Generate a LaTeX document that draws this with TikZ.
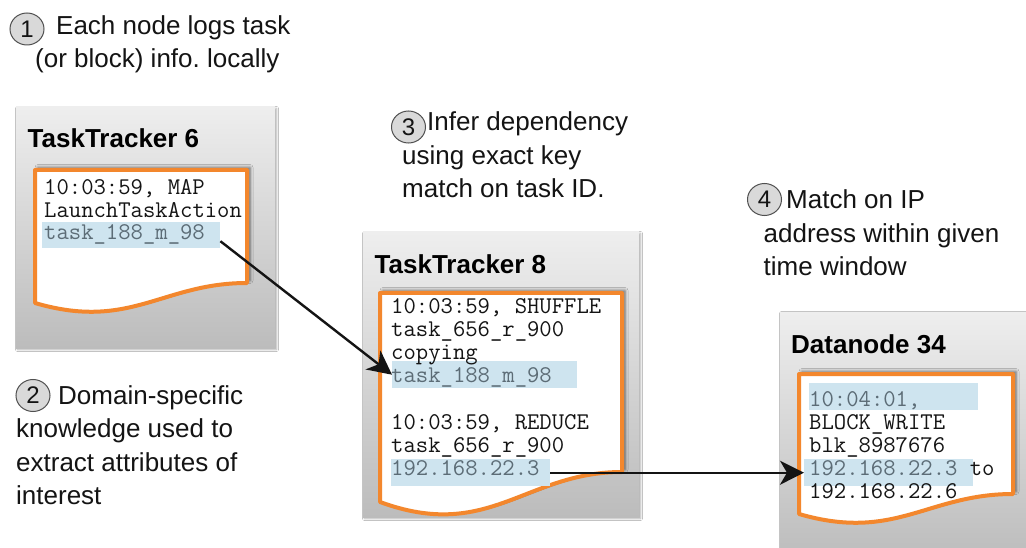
\documentclass[tikz,border=0pt]{standalone}
\usepackage{fontspec}
\setmainfont{Liberation Sans}
\usetikzlibrary{arrows.meta,shadows.blur,shapes.geometric}

\definecolor{sheetorange}{RGB}{243,135,45}
\definecolor{hlblue}{RGB}{206,228,239}
\definecolor{hltext}{RGB}{92,108,118}
\definecolor{panelTop}{RGB}{238,238,238}
\definecolor{panelBot}{RGB}{188,188,188}
\definecolor{numfill}{RGB}{217,217,217}
\definecolor{numedge}{RGB}{80,80,80}
\definecolor{inkc}{RGB}{20,20,20}

% log sheet with a wavy lower edge: x0, ytop, x1, y right bottom, y left bottom, dip
\newcommand\drawlogsheet[6]{%
  \draw[sheet] (#1,#2) -- (#3,#2) -- (#3,#4)
    .. controls ({#3-0.4*(#3-#1)},#4) and ({#1+0.45*(#3-#1)},{#5+#6}) .. (#1,#5) -- cycle;}

\begin{document}
\begin{tikzpicture}[x=1pt,y=-1pt,
  panel/.style={top color=panelTop, bottom color=panelBot,
    blur shadow={shadow xshift=1.5pt, shadow yshift=-1.5pt, shadow blur radius=2pt, shadow opacity=35}},
  sheet/.style={fill=white, draw=sheetorange, line width=4pt, line join=round,
    blur shadow={shadow xshift=3pt, shadow yshift=2.5pt, shadow blur radius=3pt, shadow opacity=55}},
  title/.style={anchor=base west, inner sep=0pt, text=black,
    font=\fontsize{26}{30}\selectfont\bfseries},
  logline/.style={anchor=base west, inner sep=0pt, text=inkc,
    font=\fontsize{24}{26}\selectfont\ttfamily},
  hl/.style={fill=hlblue, draw=none, inner sep=0pt, anchor=north west},
  note/.style={anchor=base west, inner sep=0pt, text=inkc,
    font=\fontsize{26}{30}\selectfont},
  num/.style={ellipse, draw=numedge, fill=numfill, line width=1pt,
    minimum width=34pt, minimum height=32pt, inner sep=0pt, text=inkc,
    font=\fontsize{24}{26}\selectfont},
  link/.style={draw=inkc, line width=2.4pt,
    -{Stealth[length=24pt,width=24pt,inset=7pt]}}
]
\clip (0,0) rectangle (1026,548);
\fill[white] (0,0) rectangle (1026,548);

% ---------- node panels ----------
\path[panel] (16,107) rectangle (275,348);
\path[panel] (363,232) rectangle (639,517);
\path[panel] (780,312) rectangle (1040,560);

\node[title] (tt6) at (27.5,148) {TaskTracker 6};
\node[title] (tt8) at (374.5,273) {TaskTracker 8};
\node[title] (dn34) at (791,353) {Datanode 34};

% ---------- log sheets ----------
\drawlogsheet{35}{170}{247}{283}{303}{28}
\drawlogsheet{380}{293}{622}{472}{502}{40}
\drawlogsheet{799}{374}{1013}{494}{514}{28}

% ---------- highlighted fields ----------
\node[hl, minimum width=178pt, minimum height=26pt] (h6)  at (42,222) {};
\node[hl, minimum width=185pt, minimum height=27pt] (h8a) at (392,361) {};
\node[hl, minimum width=159pt, minimum height=27pt] (h8b) at (391,459) {};
\node[hl, minimum width=169pt, minimum height=27pt] (hda) at (809,383) {};
\node[hl, minimum width=169pt, minimum height=27pt] (hdb) at (804,459) {};

% ---------- log lines ----------
\node[logline] (l6a) at (44,195)   {10:03:59, MAP};
\node[logline] (l6b) at (44,217.5) {LaunchTaskAction};
\node[logline] (l6c) at (44,240)   {\textcolor{hltext}{task\_188\_m\_98}};

\node[logline] (l8a) at (391,313)   {10:03:59, SHUFFLE};
\node[logline] (l8b) at (391,336.2) {task\_656\_r\_900};
\node[logline] (l8c) at (391,359.4) {copying};
\node[logline] (l8d) at (391,382.6) {\textcolor{hltext}{task\_188\_m\_98}};
\node[logline] (l8e) at (391,429)   {10:03:59, REDUCE};
\node[logline] (l8f) at (391,452.2) {task\_656\_r\_900};
\node[logline] (l8g) at (391,475.4) {\textcolor{hltext}{192.168.22.3}};

\node[logline] (lda) at (809,406.5) {\textcolor{hltext}{10:04:01,}};
\node[logline] (ldb) at (809,429.5) {BLOCK\_WRITE};
\node[logline] (ldc) at (809,452.5) {blk\_8987676};
\node[logline] (ldd) at (809,475.5) {\textcolor{hltext}{192.168.22.3} to};
\node[logline] (lde) at (809,498.5) {192.168.22.6};

% ---------- dependency links ----------
\draw[link] ([yshift=-6pt]h6.east) -- (h8a.west);
\draw[link] (h8b.east) -- (hdb.west);

% ---------- numbered notes ----------
\node[num] (c1) at (27,29) {1};
\node[note] (a1l1) at (56,35) {Each node logs task};
\node[note] (a1l2) at (35,68) {(or block) info.\ locally};

\node[num] (c2) at (33,395.5) {2};
\node[note] (a2l1) at (58,404) {Domain-specific};
\node[note] (a2l2) at (16,437.5) {knowledge used to};
\node[note] (a2l3) at (16,471) {extract attributes of};
\node[note] (a2l4) at (16,504) {interest};

\node[num] (c3) at (408.5,127) {3};
\node[note] (a3l1) at (427,131) {Infer dependency};
\node[note] (a3l2) at (402,164.5) {using exact key};
\node[note] (a3l3) at (402,198) {match on task ID.};

\node[num] (c4) at (764.5,199.5) {4};
\node[note] (a4l1) at (786,208.5) {Match on IP};
\node[note] (a4l2) at (763.5,242.5) {address within given};
\node[note] (a4l3) at (763.5,276) {time window};
\end{tikzpicture}
\end{document}
